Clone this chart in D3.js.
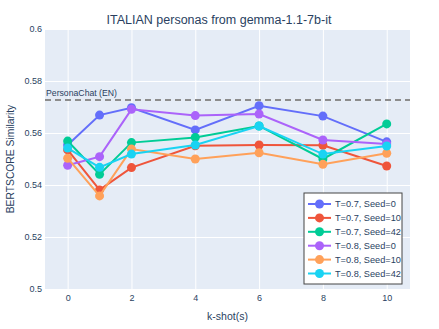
<!DOCTYPE html>
<html><head><meta charset="utf-8">
<script src="https://cdn.jsdelivr.net/npm/d3@7"></script>
<style>body{margin:0;background:#fff}svg{display:block;font-family:"Liberation Sans",Arial,sans-serif}</style>
</head><body><div id="chart"></div>
<script>
const kshots = [0, 1, 2, 4, 6, 8, 10];
const seriesNames = ["T=0.7, Seed=0","T=0.7, Seed=10","T=0.7, Seed=42","T=0.8, Seed=0","T=0.8, Seed=10","T=0.8, Seed=42"];
const t07s0  = [0.5554, 0.5669, 0.5697, 0.5612, 0.5705, 0.5665, 0.5566];
const t07s10 = [0.5535, 0.5381, 0.5467, 0.5551, 0.5554, 0.5553, 0.5473];
const t07s42 = [0.5569, 0.5441, 0.5563, 0.5583, 0.5627, 0.5500, 0.5635];
const t08s0  = [0.5476, 0.5509, 0.5691, 0.5667, 0.5673, 0.5573, 0.5558];
const t08s10 = [0.5503, 0.5358, 0.5538, 0.5500, 0.5524, 0.5480, 0.5522];
const t08s42 = [0.5542, 0.5468, 0.5519, 0.5554, 0.5627, 0.5519, 0.5550];
const seriesValues = [t07s0, t07s10, t07s42, t08s0, t08s10, t08s42];
const colors = ["#636efa","#EF553B","#00cc96","#ab63fa","#FFA15A","#19d3f3"];
const yTicks = [0.5, 0.52, 0.54, 0.56, 0.58, 0.6];
const xTicks = [0, 2, 4, 6, 8, 10];
const baselineValue = 0.5727;
const baselineLabel = "PersonaChat (EN)";
const title = "ITALIAN personas from gemma-1.1-7b-it";
const xTitle = "k-shot(s)";
const yTitle = "BERTSCORE Similarity";

const W = 439, H = 329;
const m = {l:45, r:29, t:29, b:40};
const svg = d3.select("#chart").append("svg").attr("width", W).attr("height", H);
const x = d3.scaleLinear().domain([-0.71, 10.73]).range([m.l, W - m.r]);
const y = d3.scaleLinear().domain([0.5, 0.6]).range([H - m.b, m.t]);
const txt = "#2a3f5f";
const ff = '"Liberation Sans",Arial,sans-serif';

svg.append("rect").attr("x", m.l).attr("y", m.t).attr("width", W - m.l - m.r).attr("height", H - m.t - m.b).attr("fill", "#e5ecf6");

const gy = svg.append("g").attr("transform", `translate(${m.l},0)`)
  .call(d3.axisLeft(y).tickValues(yTicks).tickSize(-(W - m.l - m.r)).tickPadding(3).tickFormat(d => d3.format("~g")(d)));
const gx = svg.append("g").attr("transform", `translate(0,${H - m.b})`)
  .call(d3.axisBottom(x).tickValues(xTicks).tickSize(-(H - m.t - m.b)).tickPadding(6));
[gx, gy].forEach(g => {
  g.select(".domain").remove();
  g.selectAll(".tick line").attr("stroke", "#fff").attr("stroke-width", 1);
  g.selectAll(".tick text").attr("fill", txt).attr("font-size", 9).style("font-family", ff);
});

svg.append("line").attr("x1", m.l).attr("x2", W - m.r).attr("y1", y(baselineValue)).attr("y2", y(baselineValue))
  .attr("stroke", "#8c8c8c").attr("stroke-width", 2).attr("stroke-dasharray", "6,4");
svg.append("text").attr("x", m.l + 1).attr("y", y(baselineValue) - 4).text(baselineLabel)
  .attr("fill", txt).attr("font-size", 8.7);

const line = d3.line().x((d, i) => x(kshots[i])).y(d => y(d));
seriesValues.forEach((vals, si) => {
  const g = svg.append("g");
  g.append("path").attr("d", line(vals)).attr("fill", "none").attr("stroke", colors[si]).attr("stroke-width", 2);
  g.selectAll("circle").data(vals).join("circle")
    .attr("cx", (d, i) => x(kshots[i])).attr("cy", d => y(d)).attr("r", 4.5).attr("fill", colors[si]);
});

svg.append("text").attr("x", 219).attr("y", 24).attr("text-anchor", "middle").attr("fill", txt).attr("font-size", 12.5).text(title);
svg.append("text").attr("x", (m.l + W - m.r) / 2).attr("y", 320).attr("text-anchor", "middle").attr("fill", txt).attr("font-size", 10.5).text(xTitle);
svg.append("text").attr("transform", `translate(14,${(m.t + H - m.b) / 2}) rotate(-90)`).attr("text-anchor", "middle").attr("fill", txt).attr("font-size", 10.3).text(yTitle);

const lg = svg.append("g").attr("transform", "translate(304,193)");
lg.append("rect").attr("x", 0).attr("y", 0).attr("width", 98).attr("height", 91).attr("fill", "#fff").attr("stroke", "#444").attr("stroke-width", 1);
seriesNames.forEach((n, i) => {
  const yy = 11 + i * 13.9;
  lg.append("line").attr("x1", 4).attr("x2", 27).attr("y1", yy).attr("y2", yy).attr("stroke", colors[i]).attr("stroke-width", 2);
  lg.append("circle").attr("cx", 15.5).attr("cy", yy).attr("r", 4.5).attr("fill", colors[i]);
  lg.append("text").attr("x", 31).attr("y", yy + 3.3).attr("fill", txt).attr("font-size", 9.2).text(n);
});
</script></body></html>
